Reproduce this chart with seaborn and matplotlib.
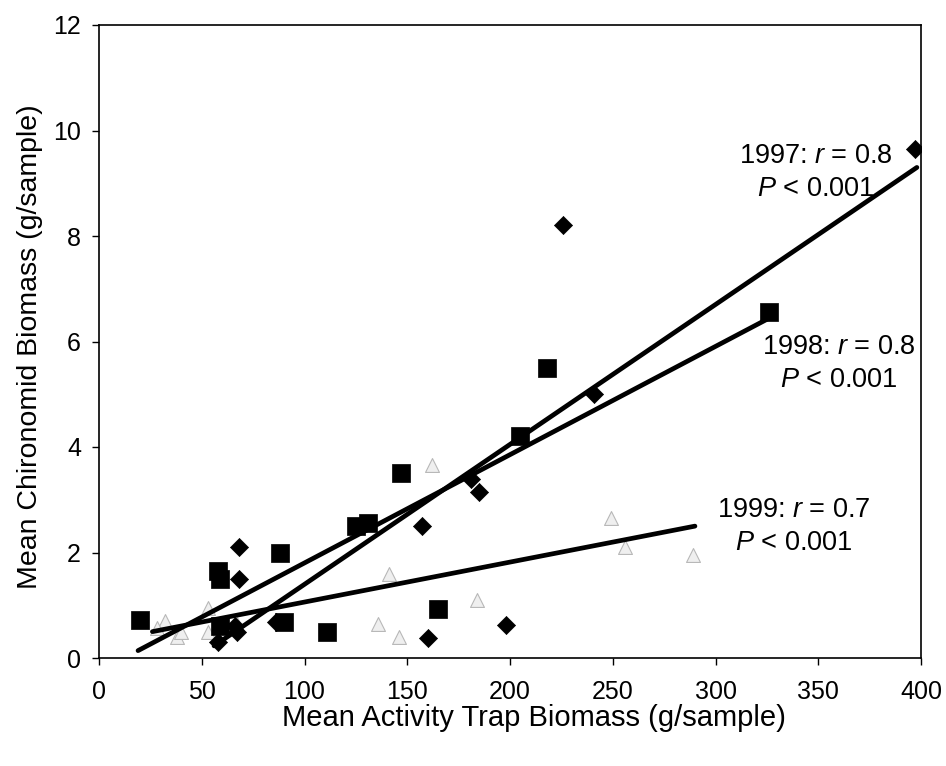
import matplotlib
matplotlib.use("Agg")
import matplotlib.pyplot as plt
import seaborn as sns
import pandas as pd

# ---- data ----
x_1997 = [397, 226, 241, 181, 185, 157, 198, 160, 68, 68, 86, 60, 66, 67, 58]
y_1997 = [9.65, 8.2, 5.0, 3.4, 3.15, 2.5, 0.62, 0.38, 2.1, 1.5, 0.68, 0.62, 0.6, 0.5, 0.3]

x_1998 = [326, 218, 205, 147, 125, 131, 165, 111, 20, 88, 58, 59, 90, 59]
y_1998 = [6.55, 5.5, 4.2, 3.5, 2.5, 2.55, 0.92, 0.5, 0.72, 2.0, 1.65, 1.5, 0.68, 0.6]

x_1999 = [162, 141, 184, 136, 146, 249, 256, 289, 53, 32, 28, 38, 53, 67, 40]
y_1999 = [3.65, 1.6, 1.1, 0.65, 0.4, 2.65, 2.1, 1.95, 0.95, 0.7, 0.57, 0.4, 0.5, 0.65, 0.5]

# fitted regression line endpoints
fit_x_1997 = [56, 398]
fit_y_1997 = [0.23, 9.3]
fit_x_1998 = [19, 325]
fit_y_1998 = [0.14, 6.42]
fit_x_1999 = [26, 290]
fit_y_1999 = [0.5, 2.5]

labels = ["1997: $r$ = 0.8\n$P$ < 0.001",
          "1998: $r$ = 0.8\n$P$ < 0.001",
          "1999: $r$ = 0.7\n$P$ < 0.001"]
label_pos = [(349, 9.2), (360, 5.58), (338, 2.49)]

x_ticks = [0, 50, 100, 150, 200, 250, 300, 350, 400]
y_ticks = [0, 2, 4, 6, 8, 10, 12]

# ---- styling ----
sns.set_style("ticks")
plt.rcParams['font.family'] = ['Liberation Sans', 'DejaVu Sans']
plt.rcParams['text.color'] = 'black'
plt.rcParams['axes.labelcolor'] = 'black'
plt.rcParams['mathtext.fontset'] = 'custom'
plt.rcParams['mathtext.rm'] = 'Liberation Sans'
plt.rcParams['mathtext.it'] = 'Liberation Sans:italic'

fig = plt.figure(figsize=(9.46, 7.66), dpi=100)
ax = fig.add_axes([99/946, 1 - 658/766, (921-99)/946, (658-25)/766])

df97 = pd.DataFrame({"x": x_1997, "y": y_1997})
df98 = pd.DataFrame({"x": x_1998, "y": y_1998})
df99 = pd.DataFrame({"x": x_1999, "y": y_1999})

sns.scatterplot(data=df99, x="x", y="y", ax=ax, marker="^", s=100,
                color="#efefef", edgecolor="#b8b8b8", linewidth=0.8, zorder=2)
sns.scatterplot(data=df98, x="x", y="y", ax=ax, marker="s", s=175,
                color="black", edgecolor="black", linewidth=0.5, zorder=3)
sns.scatterplot(data=df97, x="x", y="y", ax=ax, marker="D", s=85,
                color="black", edgecolor="black", linewidth=0.5, zorder=3)

for fx, fy in [(fit_x_1997, fit_y_1997), (fit_x_1998, fit_y_1998), (fit_x_1999, fit_y_1999)]:
    sns.lineplot(x=fx, y=fy, ax=ax, color="black", linewidth=3.4,
                 estimator=None, zorder=4)

for txt, (tx, ty) in zip(labels, label_pos):
    ax.text(tx, ty, txt, ha="center", va="center", multialignment="center",
            fontsize=19.5, linespacing=1.38, color="black", zorder=5)

ax.set_xlim(0, 400)
ax.set_ylim(0, 12)
ax.set_xticks(x_ticks)
ax.set_yticks(y_ticks)
ax.tick_params(axis="both", direction="out", length=5, width=1, labelsize=18,
               colors="black")
ax.tick_params(axis="y", pad=8)
ax.tick_params(axis="x", pad=11)
for sp in ax.spines.values():
    sp.set_visible(True)
    sp.set_linewidth(1.2)
    sp.set_color("black")

ax.set_xlabel("Mean Activity Trap Biomass (g/sample)", fontsize=21)
ax.set_ylabel("Mean Chironomid Biomass (g/sample)", fontsize=20.5)
ax.xaxis.set_label_coords((534 - 99) / 822, (658 - 718) / 633)
ax.yaxis.set_label_coords((30 - 99) / 822, (658 - 347) / 633)
ax.xaxis.label.set_va("center")
ax.yaxis.label.set_va("center")

fig.savefig("out.png", dpi=100)
